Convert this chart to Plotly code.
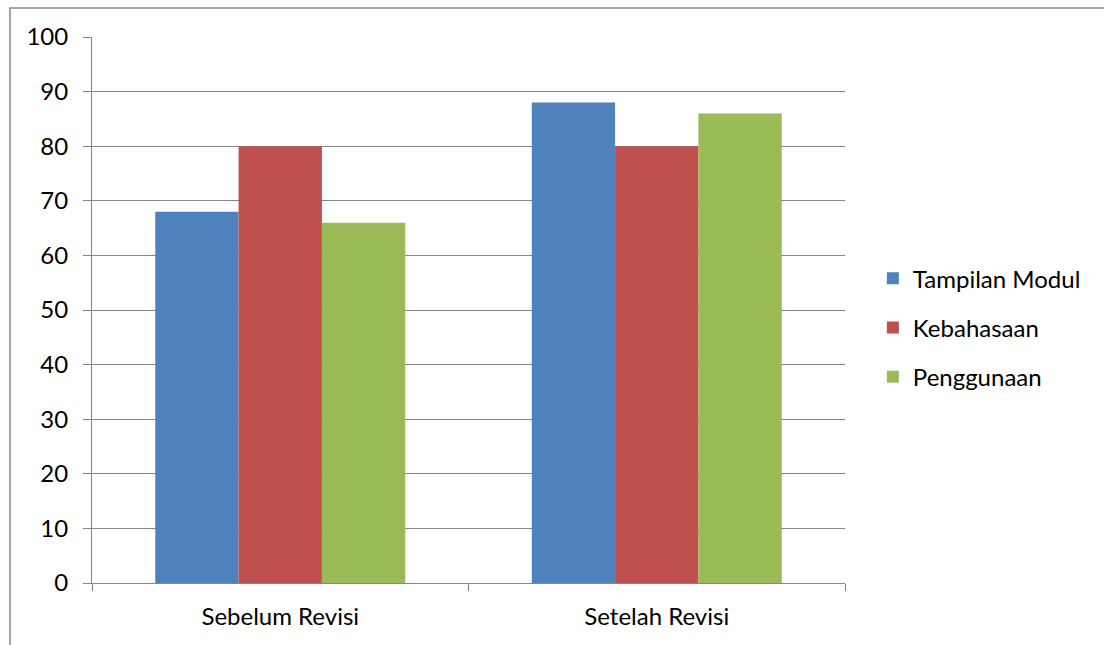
import plotly.graph_objects as go

categories = ["Sebelum Revisi", "Setelah Revisi"]
series_names = ["Tampilan Modul", "Kebahasaan", "Penggunaan"]
tampilan = [68, 88]
kebahasaan = [80, 80]
penggunaan = [66, 86]
colors = ["#4F81BD", "#C0504D", "#9BBB59"]
y_ticks = [0, 10, 20, 30, 40, 50, 60, 70, 80, 90, 100]

FONT = "Lato"
FS = 24
fig = go.Figure()
for i, (name, vals) in enumerate(zip(series_names, [tampilan, kebahasaan, penggunaan])):
    fig.add_trace(go.Bar(x=categories, y=vals, name=name, marker_color=colors[i],
                         marker_line_width=0, legendgroup=f"g{i}"))

L, R, T, B = 92, 845, 37, 583.5
W, H = 1104, 645
fig.update_layout(
    width=W, height=H,
    margin=dict(l=L, r=W - R, t=T, b=H - B, pad=0),
    paper_bgcolor="white", plot_bgcolor="white",
    barmode="group", bargap=0.336, bargroupgap=0,
    font=dict(family=FONT, size=FS, color="#000000"),
    legend=dict(x=1.037, y=0.4675, xanchor="left", yanchor="middle",
                font=dict(family=FONT, size=FS), tracegroupgap=15,
                itemwidth=30, traceorder="grouped"),
    showlegend=True,
)
fig.update_xaxes(showgrid=False, showline=True, linecolor="#868686", linewidth=1,
                 ticks="outside", tickson="boundaries", ticklen=7, tickcolor="#868686",
                 tickfont=dict(family=FONT, size=FS), ticklabelstandoff=12)
fig.update_yaxes(range=[0, 100], tickvals=y_ticks, showgrid=True, gridcolor="#868686",
                 gridwidth=1, showline=True, linecolor="#868686", linewidth=1,
                 ticks="outside", ticklen=8, tickcolor="#868686", zeroline=False,
                 tickfont=dict(family=FONT, size=FS), ticklabelstandoff=10)

pw = R - L
ph = B - T
fig.add_shape(type="rect", xref="paper", yref="paper",
              x0=(10 - L) / pw, x1=(W + 5 - L) / pw,
              y0=(B - (H + 5)) / ph, y1=(B - 8) / ph,
              line=dict(color="#868686", width=1.5), fillcolor="rgba(0,0,0,0)", layer="below")

fig.write_html("out.html")
